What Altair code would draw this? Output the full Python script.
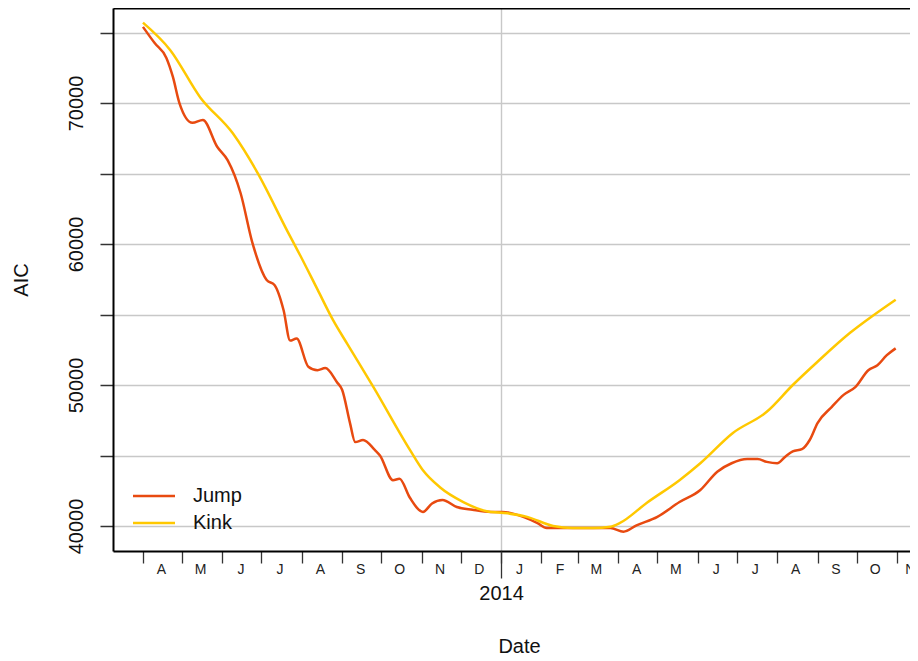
import altair as alt
import pandas as pd

# ---------------- data ----------------
jump_dates = [
    "2013-04-01", "2013-04-10", "2013-04-19", "2013-04-24", "2013-04-29",
    "2013-05-09", "2013-05-17", "2013-05-28", "2013-06-05", "2013-06-15",
    "2013-06-24", "2013-07-05", "2013-07-11", "2013-07-18", "2013-07-23",
    "2013-07-28", "2013-08-06", "2013-08-13", "2013-08-19", "2013-08-28",
    "2013-09-01", "2013-09-07", "2013-09-11", "2013-09-17", "2013-09-26",
    "2013-09-30", "2013-10-10", "2013-10-15", "2013-10-23", "2013-11-02",
    "2013-11-09", "2013-11-17", "2013-11-28", "2013-12-10", "2013-12-24",
    "2014-01-02", "2014-01-18", "2014-01-29", "2014-02-05", "2014-02-21",
    "2014-03-08", "2014-03-26", "2014-04-05", "2014-04-15", "2014-05-01",
    "2014-05-18", "2014-06-03", "2014-06-16", "2014-06-27", "2014-07-09",
    "2014-07-17", "2014-07-24", "2014-08-01", "2014-08-07", "2014-08-13",
    "2014-08-20", "2014-08-26", "2014-09-01", "2014-09-12", "2014-09-21",
    "2014-09-30", "2014-10-10", "2014-10-17", "2014-10-24", "2014-10-31",
]
jump_values = [
    75400, 74250, 73200, 71850, 70000,
    68600, 68800, 66900, 65950, 63600,
    60100, 57450, 57100, 55300, 53150,
    53300, 51300, 51050, 51200, 50200,
    49650, 47300, 45950, 46100, 45400,
    45000, 43250, 43350, 42000, 41000,
    41600, 41850, 41350, 41150, 41000,
    41000, 40650, 40200, 39850, 39850,
    39850, 39850, 39600, 40050, 40650,
    41700, 42550, 43850, 44450, 44750,
    44750, 44550, 44450, 44900, 45300,
    45450, 46100, 47300, 48450, 49300,
    49850, 51050, 51400, 52100, 52600,
]

kink_dates = [
    "2013-04-01", "2013-04-22", "2013-05-15", "2013-06-09", "2013-06-28",
    "2013-07-21", "2013-07-31", "2013-08-13", "2013-08-25", "2013-09-05",
    "2013-09-25", "2013-10-23", "2013-11-02", "2013-11-15", "2013-12-03",
    "2013-12-21", "2014-01-06", "2014-01-21", "2014-02-10", "2014-02-25",
    "2014-03-13", "2014-03-26", "2014-04-02", "2014-04-23", "2014-05-18",
    "2014-06-03", "2014-06-28", "2014-07-24", "2014-08-13", "2014-09-01",
    "2014-09-26", "2014-10-14", "2014-10-31",
]
kink_values = [
    75700, 73750, 70400, 67850, 65050,
    60900, 59150, 56780, 54600, 52900,
    49850, 45400, 43950, 42750, 41700,
    41050, 40900, 40650, 40000, 39850,
    39850, 39950, 40200, 41650, 43250,
    44450, 46600, 48100, 50000, 51650,
    53700, 54950, 56050,
]

series_names = ["Jump", "Kink"]
series_colors = ["#E84A10", "#FFC800"]

month_ticks = [(2013, m) for m in range(4, 13)] + [(2014, m) for m in range(1, 12)]
year_tick = (2014, 1)
y_ticks = [40000, 45000, 50000, 55000, 60000, 65000, 70000, 75000]
x_range = [(2013, 3, 9), (2014, 11, 11)]
y_range = [38227, 76740]

# ---------------- table ----------------
df = pd.DataFrame({
    "Date": pd.to_datetime(jump_dates + kink_dates),
    "AIC": jump_values + kink_values,
    "Model": [series_names[0]] * len(jump_dates) + [series_names[1]] * len(kink_dates),
})
year_df = pd.DataFrame({"Date": pd.to_datetime([f"{year_tick[0]}-{year_tick[1]:02d}-01"])})

FONT = "Liberation Sans"
GRID = "#c8c8c8"

x_scale = alt.Scale(domain=[alt.DateTime(year=a, month=b, date=c) for a, b, c in x_range])

lines = alt.Chart(df).mark_line(strokeWidth=2.5, interpolate="monotone").encode(
    x=alt.X(
        "Date:T",
        scale=x_scale,
        axis=alt.Axis(
            orient="bottom",
            values=[alt.DateTime(year=y, month=m, date=1) for y, m in month_ticks],
            title=None,
            grid=False,
            tickSize=12,
            tickColor="#333333",
            tickWidth=1.3,
            labelExpr="substring(timeFormat(datum.value, '%b'), 0, 1)",
            labelOffset=18,
            labelFontSize=14,
            labelPadding=10,
            labelBaseline="alphabetic",
            labelColor="#222222",
            labelOverlap=False,
            labelBound=False,
            labelFlush=20,
            domainColor="black",
            domainWidth=2,
        ),
    ),
    y=alt.Y(
        "AIC:Q",
        scale=alt.Scale(domain=y_range, nice=False, zero=False),
        axis=alt.Axis(
            values=y_ticks,
            format="d",
            labelExpr="datum.value % 10000 == 0 ? datum.label : ''",
            labelAngle=270,
            labelAlign="center",
            labelBaseline="alphabetic",
            labelPadding=18,
            labelFontSize=20,
            labelColor="#111111",
            tickSize=13,
            tickColor="#333333",
            tickWidth=1.5,
            grid=True,
            gridColor=GRID,
            gridWidth=1.4,
            domainColor="black",
            domainWidth=2,
            title="AIC",
            titleAngle=270,
            titleX=-86,
            titleY=271.5,
            titleAlign="center",
            titleBaseline="alphabetic",
            titleFontSize=20,
            titleFontWeight="normal",
        ),
    ),
    color=alt.Color(
        "Model:N",
        scale=alt.Scale(domain=series_names, range=series_colors),
        legend=alt.Legend(
            title=None,
            orient="none",
            legendX=31,
            legendY=478,
            symbolType="M-3,0H3",
            symbolSize=196,
            symbolStrokeWidth=2.5,
            labelFontSize=20,
            labelOffset=29,
            rowPadding=7,
            padding=0,
            labelColor="#111111",
        ),
    ),
)

year_axis = alt.Chart(year_df).mark_rule(opacity=0).encode(
    x=alt.X(
        "Date:T",
        scale=x_scale,
        axis=alt.Axis(
            orient="bottom",
            values=[alt.DateTime(year=year_tick[0], month=year_tick[1], date=1)],
            format="%Y",
            grid=True,
            gridColor=GRID,
            gridWidth=1.4,
            tickSize=27,
            tickColor="#333333",
            tickWidth=1.3,
            labelFontSize=20,
            labelPadding=21,
            labelBaseline="alphabetic",
            labelColor="#111111",
            domain=False,
            title="Date",
            titleX=406,
            titleY=101,
            titleAlign="center",
            titleBaseline="alphabetic",
            titleFontSize=20,
            titleFontWeight="normal",
        ),
    )
)

frame = alt.Chart(year_df).mark_rule(opacity=0).encode(
    x=alt.X(
        "Date:T",
        scale=x_scale,
        axis=alt.Axis(
            orient="top",
            ticks=False,
            labels=False,
            grid=False,
            domainColor="black",
            domainWidth=2,
            title=None,
        ),
    )
)

chart = (
    alt.layer(lines, year_axis, frame)
    .resolve_axis(x="independent")
    .properties(
        width=797,
        height=543,
        autosize=alt.AutoSizeParams(type="none"),
        padding={"left": 105, "top": 0, "right": 0, "bottom": 107},
    )
    .configure_view(stroke="transparent")
    .configure_axis(labelFont=FONT, titleFont=FONT, titleColor="#111111")
    .configure_legend(labelFont=FONT)
)

chart.save("out.html", embed_options={"renderer": "svg", "actions": False})
